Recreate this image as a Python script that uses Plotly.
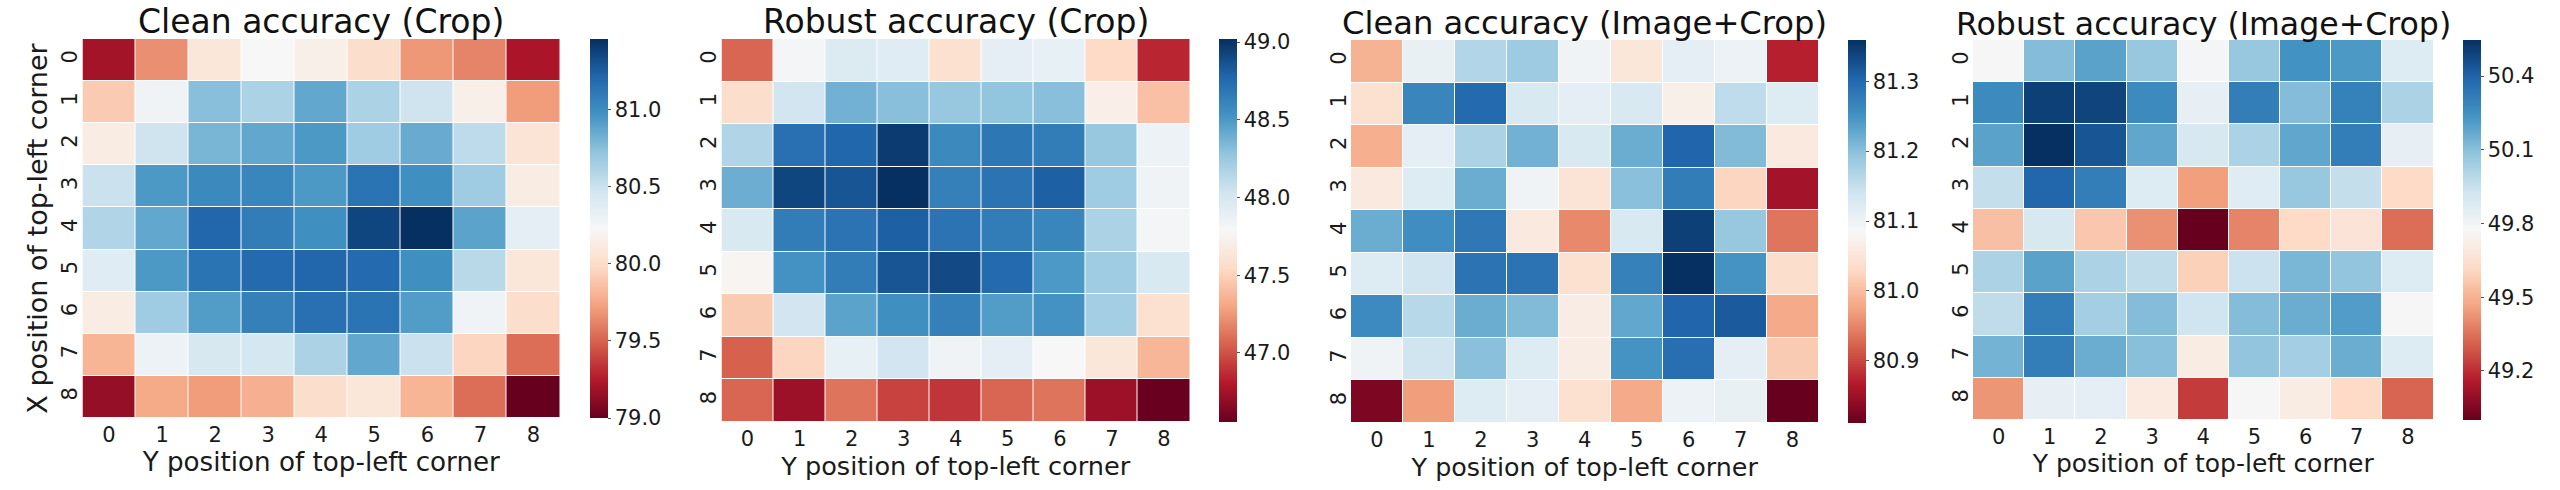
import plotly.graph_objects as go

W = 2560
H = 490

positions = ["0", "1", "2", "3", "4", "5", "6", "7", "8"]

clean_crop = [
    [79.20, 79.66, 80.08, 80.23, 80.16, 80.01, 79.69, 79.62, 79.22],
    [79.91, 80.28, 80.75, 80.62, 80.87, 80.62, 80.48, 80.16, 79.71],
    [80.13, 80.48, 80.80, 80.87, 80.94, 80.67, 80.85, 80.55, 80.06],
    [80.50, 80.94, 81.02, 81.04, 80.94, 81.14, 80.99, 80.67, 80.13],
    [80.60, 80.87, 81.21, 81.09, 80.99, 81.36, 81.46, 80.89, 80.35],
    [80.38, 80.94, 81.14, 81.19, 81.21, 81.19, 80.99, 80.57, 80.08],
    [80.13, 80.67, 80.92, 81.07, 81.16, 81.14, 80.92, 80.28, 80.01],
    [79.81, 80.30, 80.43, 80.45, 80.62, 80.87, 80.50, 79.96, 79.54],
    [79.15, 79.76, 79.71, 79.79, 80.01, 80.08, 79.81, 79.54, 79.00],
]
robust_crop = [
    [47.07, 47.81, 47.96, 47.94, 47.59, 47.91, 47.89, 47.54, 46.85],
    [47.57, 48.03, 48.38, 48.31, 48.26, 48.28, 48.31, 47.71, 47.42],
    [48.16, 48.72, 48.77, 48.97, 48.58, 48.68, 48.65, 48.26, 47.86],
    [48.40, 48.92, 48.85, 49.02, 48.63, 48.70, 48.80, 48.23, 47.84],
    [47.98, 48.65, 48.70, 48.80, 48.70, 48.65, 48.60, 48.18, 47.81],
    [47.76, 48.53, 48.65, 48.85, 48.90, 48.75, 48.50, 48.23, 47.98],
    [47.47, 48.03, 48.45, 48.55, 48.63, 48.48, 48.53, 48.21, 47.59],
    [47.05, 47.52, 47.89, 48.03, 47.84, 47.91, 47.79, 47.64, 47.37],
    [47.07, 46.73, 47.12, 46.95, 46.90, 47.07, 47.12, 46.73, 46.56],
]
clean_image_crop = [
    [80.990, 81.107, 81.167, 81.184, 81.096, 81.052, 81.112, 81.101, 80.871],
    [81.041, 81.266, 81.299, 81.129, 81.112, 81.129, 81.069, 81.156, 81.123],
    [80.986, 81.112, 81.173, 81.217, 81.129, 81.222, 81.304, 81.206, 81.058],
    [81.058, 81.123, 81.222, 81.096, 81.047, 81.200, 81.277, 81.025, 80.855],
    [81.222, 81.255, 81.282, 81.058, 80.953, 81.129, 81.343, 81.189, 80.937],
    [81.123, 81.140, 81.288, 81.288, 81.041, 81.271, 81.359, 81.249, 81.036],
    [81.260, 81.162, 81.222, 81.206, 81.063, 81.228, 81.304, 81.315, 80.981],
    [81.096, 81.140, 81.200, 81.123, 81.063, 81.249, 81.293, 81.112, 81.014],
    [80.827, 80.970, 81.123, 81.112, 81.041, 80.981, 81.101, 81.107, 80.811],
]
robust_image_crop = [
    [49.77, 50.11, 50.19, 50.07, 49.79, 50.07, 50.24, 50.22, 49.88],
    [50.27, 50.50, 50.49, 50.27, 49.84, 50.31, 50.11, 50.30, 50.02],
    [50.19, 50.55, 50.44, 50.18, 49.90, 50.02, 50.18, 50.31, 49.84],
    [49.96, 50.39, 50.31, 49.88, 49.45, 49.87, 50.07, 49.96, 49.62],
    [49.54, 49.90, 49.56, 49.42, 49.00, 49.39, 49.62, 49.67, 49.34],
    [50.02, 50.19, 50.02, 49.97, 49.59, 49.94, 50.13, 50.08, 49.88],
    [49.97, 50.31, 50.04, 50.11, 49.93, 50.11, 50.16, 50.21, 49.77],
    [50.14, 50.31, 50.16, 50.10, 49.71, 50.08, 50.04, 50.16, 49.88],
    [49.43, 49.84, 49.85, 49.70, 49.23, 49.77, 49.71, 49.62, 49.32],
]

titles = ["Clean accuracy (Crop)", "Robust accuracy (Crop)",
          "Clean accuracy (Image+Crop)", "Robust accuracy (Image+Crop)"]
xlabel = "Y position of top-left corner"
ylabel = "X position of top-left corner"
cbar_ticks = [
    [79.0, 79.5, 80.0, 80.5, 81.0],
    [47.0, 47.5, 48.0, 48.5, 49.0],
    [80.9, 81.0, 81.1, 81.2, 81.3],
    [49.2, 49.5, 49.8, 50.1, 50.4],
]
zlimits = [(79.0, 81.46), (46.555, 49.02), (80.811, 81.359), (49.0, 50.547)]

# matplotlib RdBu
rdbu = ["#67001f", "#b2182b", "#d6604d", "#f4a582", "#fddbc7", "#f7f7f7",
        "#d1e5f0", "#92c5de", "#4393c3", "#2166ac", "#053061"]
scale = [[i / 10, c] for i, c in enumerate(rdbu)]

# pixel boxes: left, right, top, bottom, colorbar left
boxes = [
    (82.5, 560, 39, 418, 590),
    (721.5, 1190, 39, 422, 1219),
    (1351, 1818.5, 40, 423, 1848),
    (1973, 2433.5, 40, 420, 2463),
]
# the panels were scaled a bit differently in the source figure
title_sizes = [33, 33, 32.2, 31.6]
xlabel_sizes = [26.2, 25.6, 25.4, 25]

FONT = "DejaVu Sans"
INK = "#1a1a1a"
fig = go.Figure()
panels = [clean_crop, robust_crop, clean_image_crop, robust_image_crop]
annotations = []

for i, z in enumerate(panels):
    left, right, top, bottom, cb_left = boxes[i]
    n = "" if i == 0 else str(i + 1)
    fig.add_trace(go.Heatmap(
        z=z, x=positions, y=positions, xaxis="x" + n, yaxis="y" + n,
        colorscale=scale, zmin=zlimits[i][0], zmax=zlimits[i][1],
        xgap=1, ygap=1, hoverinfo="skip",
        colorbar=dict(
            x=cb_left / W, xanchor="left", xref="paper",
            y=1 - bottom / H, yanchor="bottom", yref="paper",
            len=(bottom - top) / H, lenmode="fraction",
            thickness=18, thicknessmode="pixels",
            outlinewidth=0, xpad=0, ypad=0,
            tickmode="array", tickvals=cbar_ticks[i],
            ticktext=[f"{t:.1f}" for t in cbar_ticks[i]],
            ticks="outside", ticklen=3, tickwidth=1, tickcolor="#555555",
            tickfont=dict(family=FONT, size=21, color=INK),
        ),
    ))
    fig.update_layout({
        "xaxis" + n: dict(
            domain=[left / W, right / W], anchor="y" + n, type="category",
            ticks="", showgrid=False, zeroline=False, showline=False,
            tickfont=dict(family=FONT, size=21, color=INK), ticklabelstandoff=2,
            title=dict(text=xlabel, standoff=2,
                       font=dict(family=FONT, size=xlabel_sizes[i], color=INK)),
        ),
        "yaxis" + n: dict(
            domain=[1 - bottom / H, 1 - top / H], anchor="x" + n, type="category",
            autorange="reversed", ticks="", showgrid=False, zeroline=False, showline=False,
            tickangle=-90, tickfont=dict(family=FONT, size=21, color=INK),
            title=dict(text=ylabel if i == 0 else "", standoff=2,
                       font=dict(family=FONT, size=27, color=INK)),
        ),
    })
    annotations.append(dict(
        text=titles[i], x=(left + right) / 2 / W, y=1 - (top + 3) / H,
        xref="paper", yref="paper", xanchor="center", yanchor="bottom",
        showarrow=False, borderpad=0, font=dict(family=FONT, size=title_sizes[i], color="#111111"),
    ))

fig.update_layout(
    width=W, height=H, autosize=False, showlegend=False,
    margin=dict(l=0, r=0, t=0, b=0),
    paper_bgcolor="white", plot_bgcolor="white",
    annotations=annotations,
)

fig.write_html("out.html", config={"displayModeBar": False},
               post_script="document.body.style.margin='0';document.body.style.overflow='hidden';")
